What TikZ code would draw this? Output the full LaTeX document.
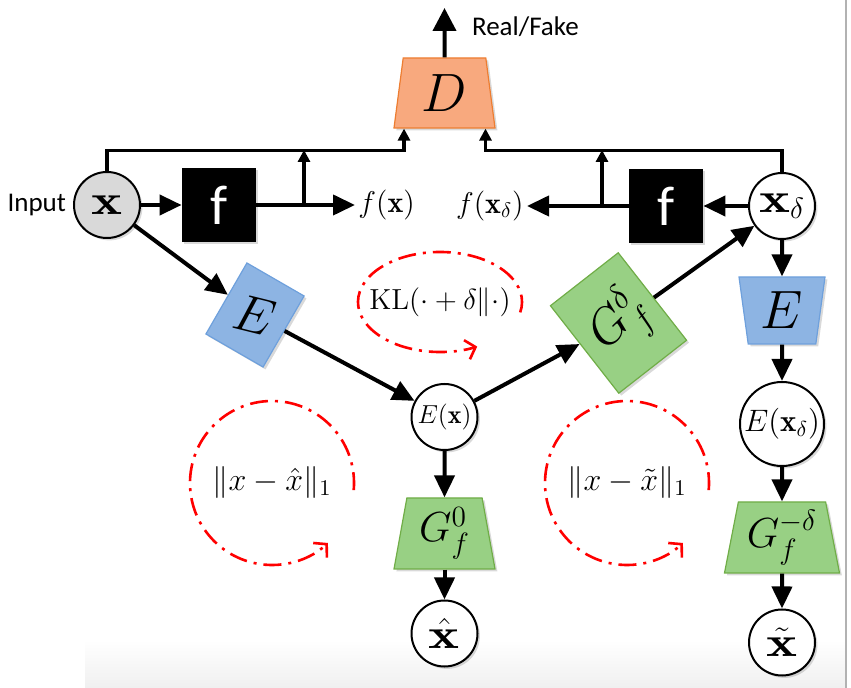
\documentclass[tikz,border=0pt]{standalone}
\usepackage{fix-cm}
\usepackage{amsmath}
\usepackage{graphicx}
\usepackage{fontspec}
\newfontfamily\calibri{Carlito}
\usepackage{tikz}
\usetikzlibrary{positioning, arrows.meta, calc, shapes.geometric, shadows}

\definecolor{dorange}{RGB}{248,169,126}
\definecolor{dorangeline}{RGB}{237,125,49}
\definecolor{eblue}{RGB}{141,180,227}
\definecolor{eblueline}{RGB}{110,160,220}
\definecolor{ggreen}{RGB}{152,208,132}
\definecolor{ggreenline}{RGB}{112,173,71}

\newcommand{\wx}{\scalebox{1.4}[1]{$\mathbf{x}$}}

\begin{document}
\begin{tikzpicture}[
  x=0.5pt, y=-0.5pt,
  >={Triangle[length=11pt,width=10pt]},
  shadowed/.style={drop shadow={shadow xshift=1.2pt, shadow yshift=-1.2pt, opacity=0.3}},
  var/.style={circle, draw, line width=1pt, fill=white, minimum size=33pt,
    inner sep=0pt, shadowed},
  bigx/.style={font=\fontsize{21}{21}\selectfont},
  fbox/.style={fill=black, minimum size=37pt, inner sep=0pt, text=white,
    font=\calibri\fontsize{28}{28}\selectfont, shadowed},
  trap/.style={trapezium, trapezium angle=76, trapezium stretches body,
    inner sep=0pt, line width=0.6pt, shadowed},
  disc/.style={trap, fill=dorange, draw=dorangeline, font=\fontsize{27}{27}\selectfont},
  enc/.style={trap, fill=eblue, draw=eblueline, font=\fontsize{27}{27}\selectfont},
  gen/.style={trap, fill=ggreen, draw=ggreenline, font=\fontsize{21}{21}\selectfont},
  lbl/.style={inner sep=1.5pt, font=\fontsize{15}{15}\selectfont},
  sans/.style={font=\calibri\fontsize{13.5}{16}\selectfont},
  arr/.style={->, line width=2pt},
  tarr/.style={-{Triangle[length=6pt,width=6pt]}, line width=1.8pt},
  lossloop/.style={red, line width=1.3pt, dash pattern=on 9pt off 3.5pt on 1.5pt off 3.5pt,
    -{Straight Barb[length=4.5pt,width=10pt]}},
  lossterm/.style={font=\fontsize{16}{16}\selectfont},
]
\useasboundingbox (0,0) rectangle (851,688);

% --- screenshot edge ---
\fill[top color=white, bottom color=black!6] (85,640) rectangle (846,688);
\draw[black!30, line width=0.6pt] (846,0) -- (846,688);

% --- discriminator ---
\node[disc, minimum height=35pt, minimum width=50.5pt] (D) at (444.5,93) {$D$};
\coordinate (rf) at (444.5,8);
\draw[arr, >={Triangle[length=11.5pt,width=11.5pt]}] (D) -- (rf);
\node[sans, anchor=west] (rflbl) at (465,27) {Real/Fake};

% --- input side ---
\node[var, fill=black!15, bigx] (x) at (107,205) {$\wx$};
\node[sans, left=0pt of x] (inlbl) {Input};
\node[fbox] (fl) at (219,205) {f};
\node[lbl, anchor=west] (fx) at (355,205) {$f(\mathbf{x})$};
\draw[arr] (x) -- (fl);
\draw[arr] (fl) -- (fx);
\coordinate (jl) at (304,205);
\coordinate (jlt) at (304,150);
\draw[tarr] (jl) -- (jlt);
\coordinate (dl) at ([xshift=-20.25pt]D.south);
\draw[tarr] (x.north) |- ([yshift=-11pt]dl) -- (dl);

% --- perturbed side ---
\node[var, bigx] (xd) at (782,206) {$\wx_\delta$};
\node[fbox] (fr) at (666,206) {f};
\node[lbl, anchor=east] (fxd) at (527,206) {$f(\mathbf{x}_\delta)$};
\draw[arr] (xd) -- (fr);
\draw[arr] (fr) -- (fxd);
\coordinate (jr) at (602,206);
\coordinate (jrt) at (602,150);
\draw[tarr] (jr) -- (jrt);
\coordinate (dr) at ([xshift=20.5pt]D.south);
\draw[tarr] (xd.north) |- ([yshift=-11pt]dr) -- (dr);

% --- encoder and generators ---
\node[enc, rotate=240, minimum height=33pt, minimum width=41pt] (el) at (255,315) {};
\node[rotate=-14, font=\fontsize{26}{26}\selectfont] (eltxt) at (el.center) {$E$};
\draw[arr] (x) -- (el);
\node[var, font=\fontsize{13}{13}\selectfont] (ex) at (444.5,417) {$E(\mathbf{x})$};
\draw[arr] (el) -- (ex);
\node[gen, rotate=128, minimum height=43pt, minimum width=55.5pt] (gd) at (618.5,323) {};
\node[rotate=45, font=\fontsize{25}{25}\selectfont] (gdtxt) at ([xshift=1pt]gd.center) {$G^{\delta}_{f}$};
\draw[arr] (ex) -- (gd);
\draw[arr] (gd) -- (xd);

\node[gen, minimum height=35.5pt, minimum width=50.5pt] (g0) at (444.5,533.5) {$G^{0}_{f}$};
\node[var, bigx] (xh) at (444.5,633.5) {$\hat{\wx}$};
\draw[arr] (ex) -- (g0);
\draw[arr] (g0) -- (xh);

% --- right column ---
\node[enc, shape border rotate=180, minimum height=33.5pt, minimum width=43pt] (er) at (782,310.5) {$E$};
\node[var, minimum size=42pt, font=\fontsize{15.5}{15.5}\selectfont] (exd) at (782,424) {$E(\mathbf{x}_\delta)$};
\node[gen, minimum height=35.5pt, minimum width=57.5pt] (gmd) at (782,537.5) {$G^{-\delta}_{f}$};
\node[var, bigx] (xt) at (782,642.5) {$\tilde{\wx}$};
\draw[arr] (xd) -- (er);
\draw[arr] (er) -- (exd);
\draw[arr] (exd) -- (gmd);
\draw[arr] (gmd) -- (xt);

% --- losses ---
\node[font=\fontsize{14.5}{14.5}\selectfont] (kl) at (440,302) {$\mathrm{KL}(\cdot+\delta\|\cdot)$};
\draw[lossloop] (kl.center) ++(12:82 and 50) arc[start angle=12, end angle=-297, x radius=82, y radius=50];
\node[lossterm] (lhat) at (272,483) {$\|x-\hat{x}\|_1$};
\draw[lossloop] (lhat.center) ++(5:82) arc[start angle=5, end angle=-313, radius=82];
\node[lossterm] (ltil) at (627,483) {$\|x-\tilde{x}\|_1$};
\draw[lossloop] (ltil.center) ++(5:82) arc[start angle=5, end angle=-313, radius=82];

\end{tikzpicture}
\end{document}
